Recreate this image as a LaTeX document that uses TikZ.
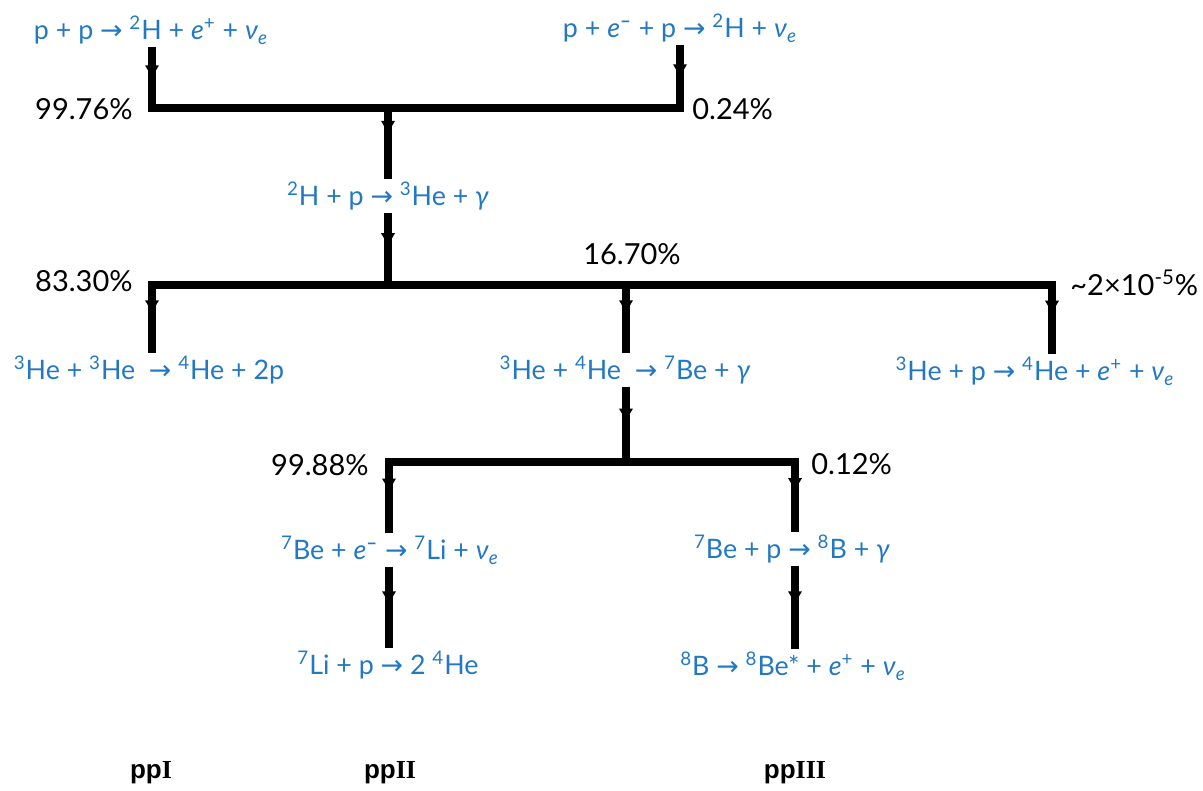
\documentclass[tikz,border=0pt]{standalone}
\usepackage{fontspec}
\setmainfont{Lato}
\newfontfamily\symf{DejaVu Sans}
\newfontfamily\ppsans{Liberation Sans}
\newfontfamily\ppserif{Liberation Serif}
\usetikzlibrary{arrows.meta,decorations.markings}
\definecolor{rxblue}{RGB}{35,120,195}
\newcommand{\rarr}{{\symf\char"2192}}
\newcommand{\nue}{\textit{ν}\textsubscript{\textit{e}}}
\newcommand{\sups}[1]{\textsuperscript{#1}}
\newcommand{\emin}{\textit{e}\textsuperscript{\textbf{--}}}
\newcommand{\eplus}{\textit{e}\textsuperscript{+}}
\begin{document}
\begin{tikzpicture}[x=0.5pt,y=-0.5pt,
  rx/.style={text=rxblue,font=\fontsize{13.4}{15}\selectfont,inner sep=1pt},
  pct/.style={font=\fontsize{14.5}{17}\selectfont,inner sep=0pt},
  chainlab/.style={font=\fontsize{13}{15}\selectfont,inner sep=0pt},
  flow/.style={line width=3.6pt},
  bar/.style={line width=3.6pt,line cap=rect},
  midarrow/.style={postaction={decorate},decoration={markings,
     mark=at position #1 with {\arrow{Triangle[width=6.5pt,length=6pt]}}}},
  midarrow/.default=0.45]
\useasboundingbox (0,0) rectangle (1203,791);

% reactions
\node[rx] (r1) at (151,30) {p + p \rarr\ \sups{2}H + \eplus\ + \nue};
\node[rx] (r2) at (680,28) {p + \emin\ + p \rarr\ \sups{2}H + \nue};
\node[rx] (r3) at (388,196) {\sups{2}H + p \rarr\ \sups{3}He + \textit{γ}};
\node[rx] (r4) at (149,370) {\sups{3}He + \sups{3}He\ \ \rarr\ \sups{4}He + 2p};
\node[rx] (r5) at (625,370) {\sups{3}He + \sups{4}He\ \ \rarr\ \sups{7}Be + \textit{γ}};
\node[rx] (r6) at (1035,371) {\sups{3}He + p \rarr\ \sups{4}He + \eplus\ + \nue};
\node[rx] (r7) at (390,550) {\sups{7}Be + \emin\ \rarr\ \sups{7}Li + \nue};
\node[rx] (r8) at (388,665) {\sups{7}Li + p \rarr\ 2 \sups{4}He};
\node[rx] (r9) at (792,549) {\sups{7}Be + p \rarr\ \sups{8}B + \textit{γ}};
\node[rx] (r10) at (793,666) {\sups{8}B \rarr\ \sups{8}Be* + \eplus\ + \nue};

% junction points
\coordinate (a1) at (152,108);
\coordinate (b1) at (680,108);
\coordinate (m1) at (388,108);
\coordinate (a2) at (152,285);
\coordinate (m2) at (388,285);
\coordinate (c2) at (626,285);
\coordinate (b2) at (1052,285);
\coordinate (a3) at (389,462);
\coordinate (c3) at (626,462);
\coordinate (b3) at (795,462);

% bars
\draw[bar] (a1) -- (b1);
\draw[bar] (a2) -- (b2);
\draw[bar] (a3) -- (b3);

% verticals
\draw[flow,midarrow=0.5] (a1 |- r1.south) -- (a1);
\draw[flow,midarrow=0.5] (b1 |- r2.south) -- (b1);
\draw[flow,midarrow=0.35] (m1) -- (m1 |- r3.north);
\draw[flow,midarrow=0.45] (m1 |- r3.south) -- (m2);
\draw[flow,midarrow=0.4] (a2) -- (a2 |- r4.north);
\draw[flow,midarrow=0.4] (c2) -- (c2 |- r5.north);
\draw[flow,midarrow=0.4] (b2) -- (b2 |- r6.north);
\draw[flow,midarrow=0.45] (c3 |- r5.south) -- (c3);
\draw[flow,midarrow=0.4] (a3) -- (a3 |- r7.north);
\draw[flow,midarrow=0.45] (a3 |- r7.south) -- (a3 |- r8.north);
\draw[flow,midarrow=0.4] (b3) -- (b3 |- r9.north);
\draw[flow,midarrow=0.45] (b3 |- r9.south) -- (b3 |- r10.north);

% branching ratios
\node[pct,anchor=east] (p1) at (133,109) {99.76\%};
\node[pct,anchor=west] (p2) at (692,109) {0.24\%};
\node[pct,anchor=east] (p3) at (133,281) {83.30\%};
\node[pct] (p4) at (632,254) {16.70\%};
\node[pct,anchor=west] (p5) at (1070,283) {\textasciitilde 2×10\textsuperscript{-5}\%};
\node[pct,anchor=east] (p6) at (369,465) {99.88\%};
\node[pct,anchor=west] (p7) at (811,464) {0.12\%};

% chain names
\node[chainlab] (l1) at (151,773) {{\ppsans\bfseries pp}{\ppserif\bfseries I}};
\node[chainlab] (l2) at (390,773) {{\ppsans\bfseries pp}{\ppserif\bfseries II}};
\node[chainlab] (l3) at (795,773) {{\ppsans\bfseries pp}{\ppserif\bfseries III}};
\end{tikzpicture}
\end{document}
